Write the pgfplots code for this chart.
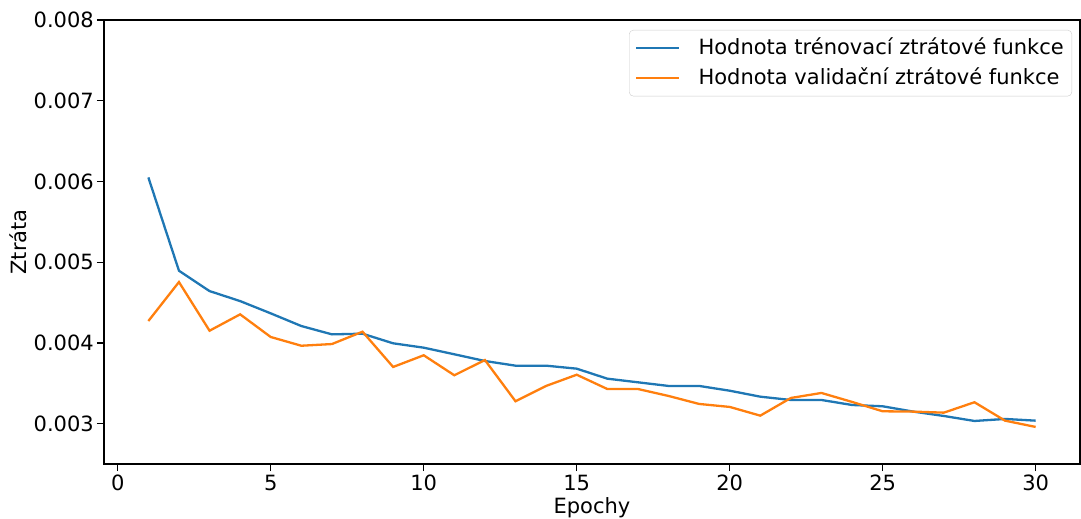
\documentclass[border=0pt]{standalone}
\usepackage{fontspec}
\setmainfont{DejaVu Sans}
\usepackage{pgfplots}
\pgfplotsset{compat=1.18}
\definecolor{tabblue}{HTML}{1F77B4}
\definecolor{taborange}{HTML}{FF7F0E}
\begin{document}
\fontsize{21pt}{25pt}\selectfont
\begin{tikzpicture}
\useasboundingbox (-104pt,-55pt) rectangle (977pt,464pt);
\begin{axis}[
  at={(0pt,0pt)}, anchor=south west,
  scale only axis, width=976pt, height=444pt,
  xmin=-0.45, xmax=31.45, ymin=0.0025, ymax=0.008,
  scaled y ticks=false,
  /pgf/number format/assume math mode=true,
  xtick={0,5,10,15,20,25,30},
  ytick={0.003,0.004,0.005,0.006,0.007,0.008},
  yticklabels={0.003,0.004,0.005,0.006,0.007,0.008},
  xticklabels={0,5,10,15,20,25,30},
  tick align=outside, major tick length=7pt,
  xtick pos=bottom, ytick pos=left,
  every tick/.style={black, line width=1.2pt},
  axis line style={line width=1.4pt},
  tick label style={font=\fontsize{21pt}{25pt}\selectfont},
  yticklabel style={inner xsep=3pt},
  xticklabel style={inner ysep=4pt},
  label style={font=\fontsize{21pt}{25pt}\selectfont},
  xlabel={Epochy}, ylabel={Ztráta},
  xlabel style={at={(axis description cs:0.5,0)}, anchor=base, yshift=-49pt},
  ylabel style={at={(axis description cs:0,0.5)}, anchor=base, yshift=77pt},
  legend style={at={(axis description cs:1,1)}, anchor=north east, xshift=-8pt, yshift=-10pt,
    draw=black!20, rounded corners=4pt, fill=white, font=\fontsize{21pt}{25pt}\selectfont,
    inner xsep=6pt, inner ysep=6pt, row sep=6pt,
    /tikz/every odd column/.style={column sep=16pt}},
  legend cell align=left,
  legend image code/.code={\draw[#1] (0pt,0pt) -- (43pt,0pt);},
]
\addplot[tabblue, line width=2.3pt] coordinates {
(1,0.006050)(2,0.004894)(3,0.004642)(4,0.004518)(5,0.004366)(6,0.004209)(7,0.004106)(8,0.004114)(9,0.003995)(10,0.003941)
(11,0.003859)(12,0.003776)(13,0.003718)(14,0.003718)(15,0.003681)(16,0.003557)(17,0.003512)(18,0.003467)(19,0.003467)(20,0.003408)
(21,0.003334)(22,0.003293)(23,0.003293)(24,0.003231)(25,0.003215)(26,0.003149)(27,0.003095)(28,0.003033)(29,0.003058)(30,0.003037)};
\addlegendentry{Hodnota trénovací ztrátové funkce}
\addplot[taborange, line width=2.3pt] coordinates {
(1,0.004271)(2,0.004754)(3,0.004151)(4,0.004354)(5,0.004073)(6,0.003965)(7,0.003986)(8,0.004139)(9,0.003702)(10,0.003847)
(11,0.003599)(12,0.003788)(13,0.003277)(14,0.003467)(15,0.003606)(16,0.003429)(17,0.003429)(18,0.003343)(19,0.003244)(20,0.003207)
(21,0.003099)(22,0.003318)(23,0.003380)(24,0.003269)(25,0.003153)(26,0.003149)(27,0.003136)(28,0.003265)(29,0.003037)(30,0.002959)};
\addlegendentry{Hodnota validační ztrátové funkce}
\end{axis}
\end{tikzpicture}
\end{document}
